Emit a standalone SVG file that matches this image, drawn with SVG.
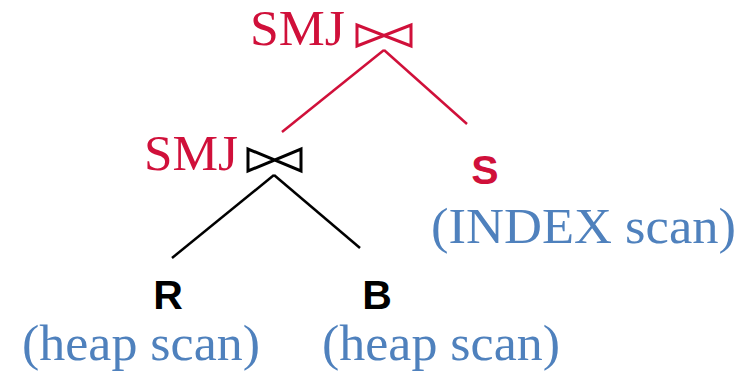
<svg xmlns="http://www.w3.org/2000/svg" width="740" height="376" viewBox="0 0 740 376">
<style>
.smj{font-family:"Liberation Serif",serif;font-size:50px;fill:#D0103A}
.rel{font-family:"Liberation Sans",sans-serif;font-weight:bold;font-size:41px;text-anchor:middle}
.scan{font-family:"Liberation Serif",serif;font-size:50px;fill:#4F81BD}
.bow{fill:none;stroke-width:3;stroke-linejoin:miter}
.edge{stroke-width:2.5;fill:none}
</style>
<rect width="740" height="376" fill="#fff"/>
<g id="connectors">
<line class="edge" stroke="#D0103A" x1="384" y1="50" x2="282" y2="132"/>
<line class="edge" stroke="#D0103A" x1="384" y1="50" x2="467" y2="124"/>
<line class="edge" stroke="#000" x1="274" y1="175" x2="172" y2="258"/>
<line class="edge" stroke="#000" x1="274" y1="175" x2="360" y2="248"/>
</g>
<g id="smj-top">
<text class="smj" x="250" y="45" textLength="95" lengthAdjust="spacingAndGlyphs">SMJ</text>
<path class="bow" stroke="#D0103A" d="M357,25 L357,46 L411,25 L411,46 Z"/>
</g>
<g id="smj-bottom">
<text class="smj" x="144" y="170" textLength="94" lengthAdjust="spacingAndGlyphs">SMJ</text>
<path class="bow" stroke="#000" d="M248,149 L248,171 L301,149 L301,171 Z"/>
</g>
<g id="S">
<text class="rel" x="485" y="184" fill="#D0103A">S</text>
<text class="scan" x="431" y="243" textLength="305" lengthAdjust="spacingAndGlyphs" style="font-size:50px">(INDEX scan)</text>
</g>
<g id="R">
<text class="rel" x="168" y="309" fill="#000">R</text>
<text class="scan" x="22" y="360" textLength="238" lengthAdjust="spacingAndGlyphs">(heap scan)</text>
</g>
<g id="B">
<text class="rel" x="377" y="309" fill="#000">B</text>
<text class="scan" x="322" y="360" textLength="238" lengthAdjust="spacingAndGlyphs">(heap scan)</text>
</g>
</svg>
